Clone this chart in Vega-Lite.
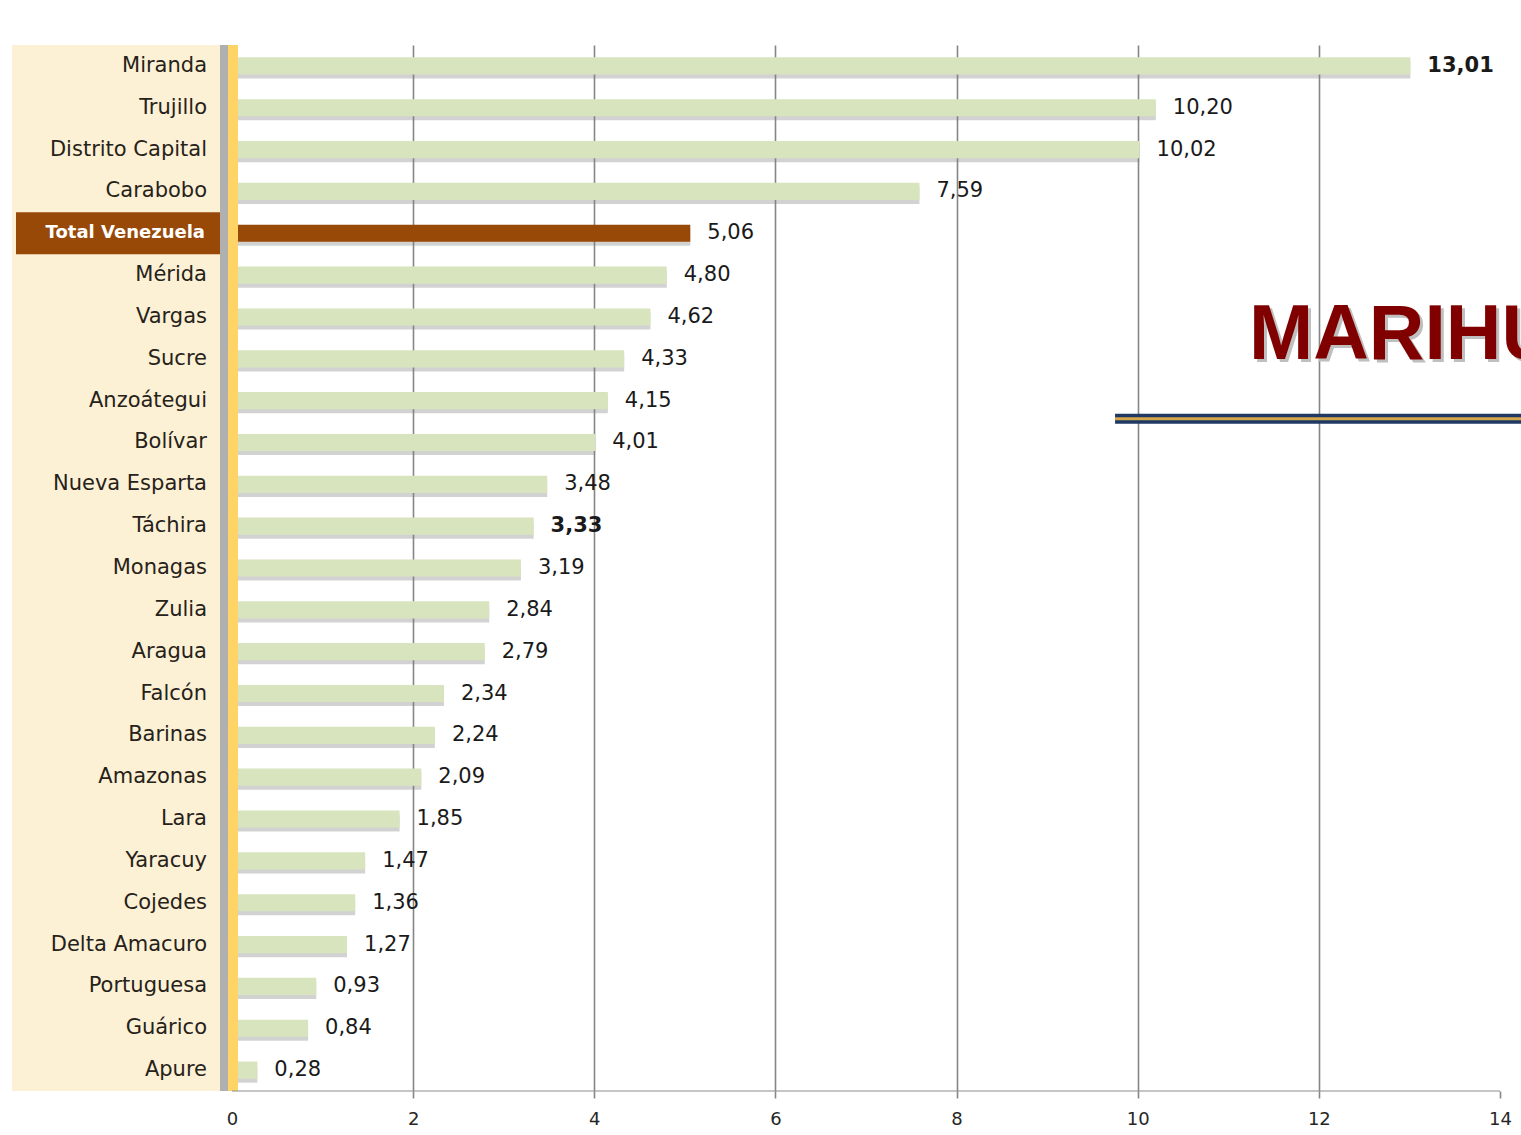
{
  "$schema": "https://vega.github.io/schema/vega-lite/v6.json",
  "background": "white",
  "padding": {"left": 12, "top": 40, "right": 0, "bottom": 0},
  "spacing": 6,
  "bounds": "flush",
  "datasets": {
    "rates": [
      {"state": "Miranda", "value": 13.01},
      {"state": "Trujillo", "value": 10.20},
      {"state": "Distrito Capital", "value": 10.02},
      {"state": "Carabobo", "value": 7.59},
      {"state": "Total Venezuela", "value": 5.06},
      {"state": "Mérida", "value": 4.80},
      {"state": "Vargas", "value": 4.62},
      {"state": "Sucre", "value": 4.33},
      {"state": "Anzoátegui", "value": 4.15},
      {"state": "Bolívar", "value": 4.01},
      {"state": "Nueva Esparta", "value": 3.48},
      {"state": "Táchira", "value": 3.33},
      {"state": "Monagas", "value": 3.19},
      {"state": "Zulia", "value": 2.84},
      {"state": "Aragua", "value": 2.79},
      {"state": "Falcón", "value": 2.34},
      {"state": "Barinas", "value": 2.24},
      {"state": "Amazonas", "value": 2.09},
      {"state": "Lara", "value": 1.85},
      {"state": "Yaracuy", "value": 1.47},
      {"state": "Cojedes", "value": 1.36},
      {"state": "Delta Amacuro", "value": 1.27},
      {"state": "Portuguesa", "value": 0.93},
      {"state": "Guárico", "value": 0.84},
      {"state": "Apure", "value": 0.28}
    ],
    "one": [{"title": "MARIHUANA"}]
  },
  "hconcat": [
    {
      "width": 214,
      "height": 1046,
      "data": {"name": "rates"},
      "view": {"fill": "#FDF1D5", "stroke": null},
      "encoding": {
        "y": {"field": "state", "type": "nominal", "sort": null, "axis": null,
              "scale": {"paddingInner": 0, "paddingOuter": 0}}
      },
      "layer": [
        {
          "mark": {"type": "bar", "color": "#984807", "height": {"band": 1}},
          "encoding": {
            "x": {"value": 4},
            "x2": {"value": "width"},
            "opacity": {"condition": {"test": "datum.state === 'Total Venezuela'", "value": 1}, "value": 0}
          }
        },
        {
          "mark": {"type": "text", "align": "right", "baseline": "middle", "dx": -19,
                   "font": "DejaVu Sans", "fontSize": 21, "color": "#262219"},
          "encoding": {
            "x": {"value": "width"},
            "text": {"field": "state"},
            "opacity": {"condition": {"test": "datum.state === 'Total Venezuela'", "value": 0}, "value": 1}
          }
        },
        {
          "mark": {"type": "text", "align": "right", "baseline": "middle", "dx": -21,
                   "font": "DejaVu Sans", "fontSize": 18, "fontWeight": "bold", "color": "#FFFFFF"},
          "encoding": {
            "x": {"value": "width"},
            "text": {"field": "state"},
            "opacity": {"condition": {"test": "datum.state === 'Total Venezuela'", "value": 1}, "value": 0}
          }
        }
      ]
    },
    {
      "width": 1289,
      "height": 1046,
      "view": {"stroke": null},
      "layer": [
        {
          "data": {"name": "rates"},
          "mark": {"type": "bar", "color": "#7F7F7F", "opacity": 0.35, "yOffset": 4, "height": {"band": 0.41}},
          "encoding": {
            "y": {"field": "state", "type": "nominal", "sort": null, "axis": null,
                  "scale": {"paddingInner": 0, "paddingOuter": 0}},
            "x": {"field": "value", "type": "quantitative",
                  "scale": {"domain": [0, 14.232], "nice": false, "zero": true},
                  "axis": {"values": [0, 2, 4, 6, 8, 10, 12, 14], "title": null, "domain": false,
                           "grid": true, "labelFlush": false,
                           "gridColor": {"condition": {"test": "datum.value === 14 || datum.value === 0", "value": "transparent"}, "value": "#868686"},
                           "gridWidth": 1.6,
                           "tickColor": {"condition": {"test": "datum.value === 0", "value": "transparent"}, "value": "#868686"},
                           "tickSize": 7, "tickWidth": 1.6,
                           "labelFont": "DejaVu Sans", "labelFontSize": 18, "labelColor": "#262626",
                           "labelPadding": 12, "format": "d"}}
          }
        },
        {
          "data": {"name": "rates"},
          "mark": {"type": "bar", "height": {"band": 0.41}},
          "encoding": {
            "y": {"field": "state", "type": "nominal", "sort": null},
            "x": {"field": "value", "type": "quantitative"},
            "color": {"condition": {"test": "datum.state === 'Total Venezuela'", "value": "#984807"}, "value": "#D7E4BD"}
          }
        },
        {
          "data": {"name": "rates"},
          "mark": {"type": "text", "align": "left", "baseline": "middle", "dx": 17,
                   "font": "DejaVu Sans", "fontSize": 21, "color": "#1A1A1A"},
          "encoding": {
            "y": {"field": "state", "type": "nominal", "sort": null},
            "x": {"field": "value", "type": "quantitative"},
            "text": {"field": "value", "type": "quantitative", "format": ".2f"},
            "opacity": {"condition": {"test": "datum.state === 'Miranda' || datum.state === 'Táchira'", "value": 0}, "value": 1}
          }
        },
        {
          "data": {"name": "rates"},
          "mark": {"type": "text", "align": "left", "baseline": "middle", "dx": 17,
                   "font": "DejaVu Sans", "fontSize": 21, "fontWeight": "bold", "color": "#1A1A1A"},
          "encoding": {
            "y": {"field": "state", "type": "nominal", "sort": null},
            "x": {"field": "value", "type": "quantitative"},
            "text": {"field": "value", "type": "quantitative", "format": ".2f"},
            "opacity": {"condition": {"test": "datum.state === 'Miranda' || datum.state === 'Táchira'", "value": 1}, "value": 0}
          }
        },
        {
          "data": {"name": "one"},
          "mark": {"type": "rule", "color": "#B0B0B0", "strokeWidth": 8, "xOffset": -8},
          "encoding": {"x": {"datum": 0}}
        },
        {
          "data": {"name": "one"},
          "mark": {"type": "rule", "color": "#FFD467", "strokeWidth": 10, "xOffset": 1},
          "encoding": {"x": {"datum": 0}}
        },
        {
          "data": {"name": "one"},
          "mark": {"type": "rule", "color": "#8C8C8C", "strokeWidth": 1.2},
          "encoding": {"x": {"datum": 0}, "x2": {"datum": 14}, "y": {"value": "height"}}
        },
        {
          "data": {"name": "one"},
          "mark": {"type": "text", "align": "left", "baseline": "alphabetic", "dx": 3, "dy": 3, "clip": true,
                   "font": "Liberation Sans", "fontSize": 77, "fontWeight": "bold", "color": "#BFBFBF"},
          "encoding": {"x": {"datum": 11.23}, "y": {"datum": "Sucre"}, "text": {"field": "title"}}
        },
        {
          "data": {"name": "one"},
          "mark": {"type": "text", "align": "left", "baseline": "alphabetic", "dy": 0, "clip": true,
                   "font": "Liberation Sans", "fontSize": 77, "fontWeight": "bold", "color": "#800000"},
          "encoding": {"x": {"datum": 11.23}, "y": {"datum": "Sucre"}, "text": {"field": "title"}}
        },
        {
          "data": {"name": "one"},
          "mark": {"type": "rule", "color": "#1F3864", "strokeWidth": 10, "yOffset": 18, "clip": true},
          "encoding": {"x": {"datum": 9.75}, "x2": {"datum": 14.232}, "y": {"datum": "Anzoátegui"}}
        },
        {
          "data": {"name": "one"},
          "mark": {"type": "rule", "color": "#D4A64C", "strokeWidth": 3, "yOffset": 18, "clip": true},
          "encoding": {"x": {"datum": 9.75}, "x2": {"datum": 14.232}, "y": {"datum": "Anzoátegui"}}
        }
      ]
    }
  ],
  "config": {
    "locale": {"number": {"decimal": ",", "thousands": ".", "grouping": [3], "currency": ["", ""]}},
    "axis": {"domain": false}
  }
}
